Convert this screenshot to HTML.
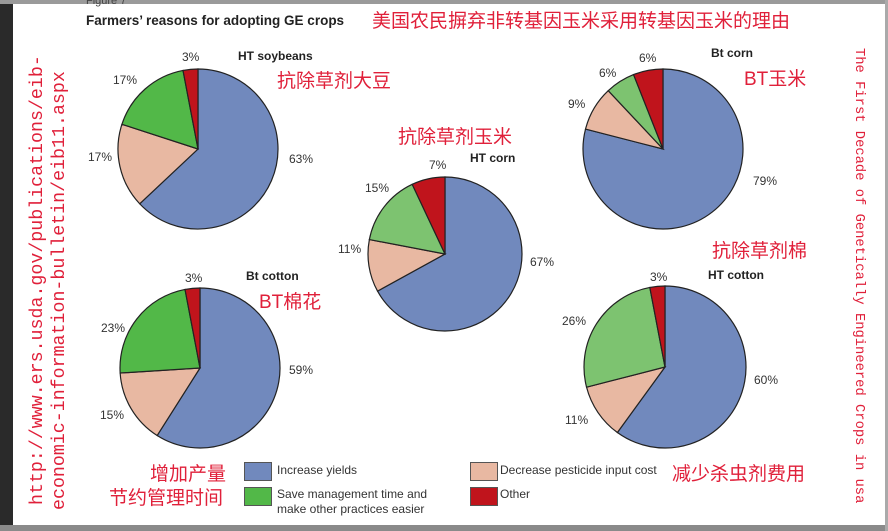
<!DOCTYPE html>
<html><head><meta charset="utf-8"><style>
body{margin:0;width:888px;height:531px;overflow:hidden;background:#fff;position:relative;font-family:"Liberation Sans",sans-serif}
.a{position:absolute;white-space:nowrap}
.p{font-size:12px;color:#333}
.t{font-size:12px;font-weight:bold;color:#222}
.cn{font-family:"Liberation Sans","Noto Sans CJK SC",sans-serif;color:#e0203a;font-size:19px}
.sw{position:absolute;width:26px;height:17px;border:1px solid #555}
</style></head><body>
<div class="a" style="left:0;top:0;width:13px;height:531px;background:#2a2a2a"></div>
<div class="a" style="left:0;top:0;width:888px;height:4px;background:#9a9a9a"></div>
<div class="a" style="left:0;top:525px;width:888px;height:6px;background:#8a8a8a"></div>
<div class="a" style="left:885px;top:0;width:3px;height:531px;background:#aaa"></div>
<div class="a" style="left:86px;top:-5px;font-size:11px;color:#444">Figure 7</div>
<div class="a" style="left:86px;top:13px;font-size:13.5px;font-weight:bold;color:#222">Farmers’ reasons for adopting GE crops</div>
<div class="a cn" style="left:372px;top:6px">美国农民摒弃非转基因玉米采用转基因玉米的理由</div>
<div class="a cn" style="left:28px;top:505px;transform-origin:0 0;transform:rotate(-90deg);font-family:'Liberation Mono',monospace;font-size:18.3px;line-height:20px">http://www.ers.usda.gov/publications/eib-</div>
<div class="a cn" style="left:50px;top:510px;transform-origin:0 0;transform:rotate(-90deg);font-family:'Liberation Mono',monospace;font-size:18.3px;line-height:20px">economic-information-bulletin/eib11.aspx</div>
<div class="a cn" style="left:866px;top:48px;transform-origin:0 0;transform:rotate(90deg);font-family:'Liberation Mono',monospace;font-size:13.8px;line-height:16px">The First Decade of Genetically Engineered Crops in usa</div>
<svg id="pies" width="888" height="531" style="position:absolute;left:0;top:0"></svg>
<div class="a t" style="left:238px;top:49px">HT soybeans</div>
<div class="a cn" style="left:277px;top:66px">抗除草剂大豆</div>
<div class="a p" style="left:182px;top:50px">3%</div>
<div class="a p" style="left:113px;top:73px">17%</div>
<div class="a p" style="left:88px;top:150px">17%</div>
<div class="a p" style="left:289px;top:152px">63%</div>
<div class="a t" style="left:470px;top:151px">HT corn</div>
<div class="a cn" style="left:398px;top:122px">抗除草剂玉米</div>
<div class="a p" style="left:429px;top:158px">7%</div>
<div class="a p" style="left:365px;top:181px">15%</div>
<div class="a p" style="left:338px;top:242px">11%</div>
<div class="a p" style="left:530px;top:255px">67%</div>
<div class="a t" style="left:711px;top:46px">Bt corn</div>
<div class="a cn" style="left:744px;top:64px">BT玉米</div>
<div class="a p" style="left:639px;top:51px">6%</div>
<div class="a p" style="left:599px;top:66px">6%</div>
<div class="a p" style="left:568px;top:97px">9%</div>
<div class="a p" style="left:753px;top:174px">79%</div>
<div class="a t" style="left:246px;top:269px">Bt cotton</div>
<div class="a cn" style="left:259px;top:287px">BT棉花</div>
<div class="a p" style="left:185px;top:271px">3%</div>
<div class="a p" style="left:101px;top:321px">23%</div>
<div class="a p" style="left:100px;top:408px">15%</div>
<div class="a p" style="left:289px;top:363px">59%</div>
<div class="a t" style="left:708px;top:268px">HT cotton</div>
<div class="a cn" style="left:712px;top:236px">抗除草剂棉</div>
<div class="a p" style="left:650px;top:270px">3%</div>
<div class="a p" style="left:562px;top:314px">26%</div>
<div class="a p" style="left:565px;top:413px">11%</div>
<div class="a p" style="left:754px;top:373px">60%</div>
<div class="a cn" style="left:150px;top:459px">增加产量</div>
<div class="a cn" style="left:109px;top:483px">节约管理时间</div>
<div class="a cn" style="left:672px;top:459px">减少杀虫剂费用</div>
<div class="sw" style="left:244px;top:462px;background:#7189bd"></div>
<div class="a p" style="left:277px;top:463px">Increase yields</div>
<div class="sw" style="left:244px;top:487px;background:#52b848"></div>
<div class="a p" style="left:277px;top:487px;line-height:15px">Save management time and<br>make other practices easier</div>
<div class="sw" style="left:470px;top:462px;background:#e8b8a2"></div>
<div class="a p" style="left:500px;top:463px">Decrease pesticide input cost</div>
<div class="sw" style="left:470px;top:487px;background:#c0141c"></div>
<div class="a p" style="left:500px;top:487px">Other</div>
<script>
const crops=["ht-soybeans","ht-corn","bt-corn","bt-cotton","ht-cotton"];
const yields=[63,67,79,59,60];
const pesticide=[17,11,9,15,11];
const saveTime=[17,15,6,23,26];
const other=[3,7,6,3,3];
const layout=[[198,149,80,"#52b848"],[445,254,77,"#7dc370"],[663,149,80,"#7dc370"],[200,368,80,"#52b848"],[665,367,81,"#7dc370"]];
const svg=document.getElementById('pies');
const NS="http://www.w3.org/2000/svg";
crops.forEach((c,i)=>{
  const [cx,cy,r,g]=layout[i];
  const vals=[yields[i],pesticide[i],saveTime[i],other[i]];
  const cols=["#7189bd","#e8b8a2",g,"#c0141c"];
  const tot=vals.reduce((a,b)=>a+b,0);
  let a0=0;
  vals.forEach((v,k)=>{
    const a1=a0+v/tot*2*Math.PI;
    const x0=cx+r*Math.sin(a0),y0=cy-r*Math.cos(a0),x1=cx+r*Math.sin(a1),y1=cy-r*Math.cos(a1);
    const p=document.createElementNS(NS,'path');
    p.setAttribute('d',`M${cx},${cy}L${x0},${y0}A${r},${r} 0 ${a1-a0>Math.PI?1:0} 1 ${x1},${y1}Z`);
    p.setAttribute('fill',cols[k]);p.setAttribute('stroke','#222');p.setAttribute('stroke-width','1.2');
    
    
    svg.appendChild(p);
    a0=a1;
  });
});
</script>
</body></html>
